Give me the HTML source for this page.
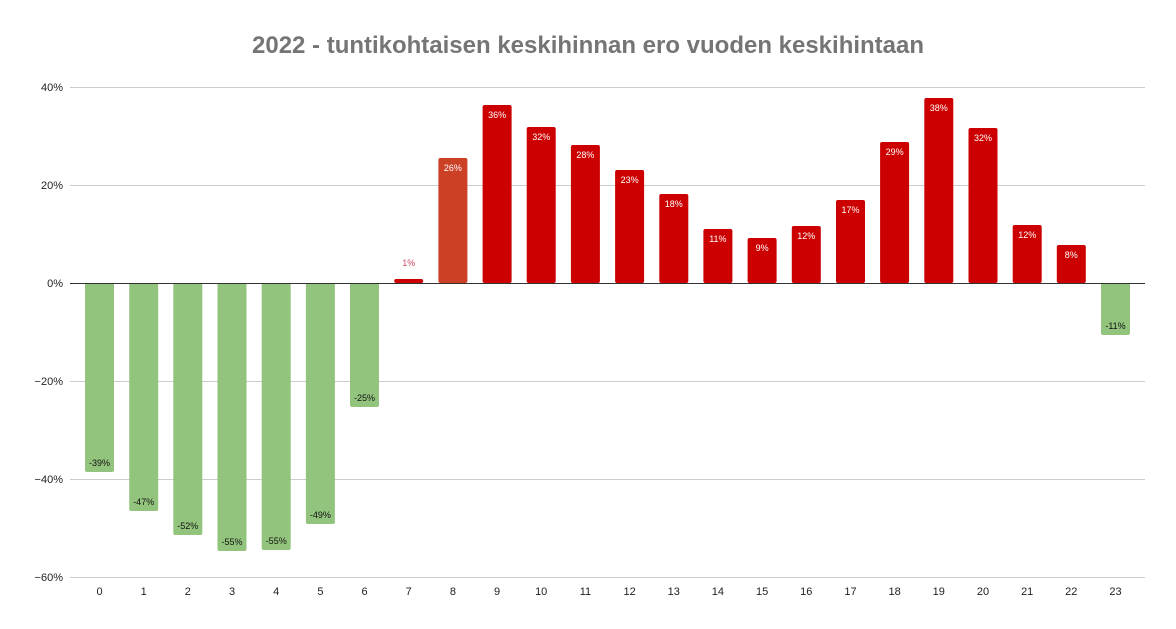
<!DOCTYPE html>
<html><head><meta charset="utf-8"><style>body{margin:0;background:#fff}svg{display:block}</style></head><body>
<svg width="1176" height="629" xmlns="http://www.w3.org/2000/svg" font-family="Liberation Sans, sans-serif">
<rect width="1176" height="629" fill="#fff"/>
<text x="588" y="53" text-anchor="middle" font-size="24" font-weight="bold" fill="#757575" textLength="672" lengthAdjust="spacingAndGlyphs">2022 - tuntikohtaisen keskihinnan ero vuoden keskihintaan</text>
<g stroke="#cccccc" stroke-width="1">
<line x1="70" x2="1145" y1="87.5" y2="87.5"/><line x1="70" x2="1145" y1="185.5" y2="185.5"/>
<line x1="70" x2="1145" y1="381.5" y2="381.5"/><line x1="70" x2="1145" y1="479.5" y2="479.5"/><line x1="70" x2="1145" y1="577.5" y2="577.5"/>
</g>
<g font-size="11" fill="#222" text-anchor="end">
<text x="63" y="91">40%</text><text x="63" y="189">20%</text><text x="63" y="287">0%</text><text x="63" y="385">−20%</text><text x="63" y="483">−40%</text><text x="63" y="581">−60%</text>
</g>
<g fill="#93c47d">
<rect x="85" y="283" width="29" height="189" rx="2"/>
<rect x="129.2" y="283" width="29" height="228" rx="2"/>
<rect x="173.3" y="283" width="29" height="252" rx="2"/>
<rect x="217.5" y="283" width="29" height="268" rx="2"/>
<rect x="261.7" y="283" width="29" height="267" rx="2"/>
<rect x="305.9" y="283" width="29" height="241" rx="2"/>
<rect x="350" y="283" width="29" height="124" rx="2"/>
<rect x="1101" y="283" width="29" height="52" rx="2"/>
</g>
<rect x="438.4" y="158" width="29" height="125" rx="2" fill="#cc4125"/>
<g fill="#cc0000">
<rect x="394.2" y="279" width="29" height="4" rx="2"/>
<rect x="482.6" y="105" width="29" height="178" rx="2"/>
<rect x="526.7" y="127" width="29" height="156" rx="2"/>
<rect x="570.9" y="145" width="29" height="138" rx="2"/>
<rect x="615.1" y="170" width="29" height="113" rx="2"/>
<rect x="659.3" y="194" width="29" height="89" rx="2"/>
<rect x="703.4" y="229" width="29" height="54" rx="2"/>
<rect x="747.6" y="238" width="29" height="45" rx="2"/>
<rect x="791.8" y="226" width="29" height="57" rx="2"/>
<rect x="836" y="200" width="29" height="83" rx="2"/>
<rect x="880.1" y="142" width="29" height="141" rx="2"/>
<rect x="924.3" y="98" width="29" height="185" rx="2"/>
<rect x="968.5" y="128" width="29" height="155" rx="2"/>
<rect x="1012.7" y="225" width="29" height="58" rx="2"/>
<rect x="1056.8" y="245" width="29" height="38" rx="2"/>
</g>
<line x1="70" x2="1145" y1="283.5" y2="283.5" stroke="#333" stroke-width="1"/>
<g font-size="9" text-anchor="middle" fill="#111">
<text x="99.5" y="466">-39%</text><text x="143.7" y="505">-47%</text><text x="187.8" y="529">-52%</text>
<text x="232" y="545">-55%</text><text x="276.2" y="544">-55%</text><text x="320.4" y="518">-49%</text>
<text x="364.5" y="401">-25%</text><text x="1115.5" y="329">-11%</text>
</g>
<text x="408.7" y="266" font-size="9" text-anchor="middle" fill="#cc4a5d">1%</text>
<g font-size="9" text-anchor="middle" fill="#fff">
<text x="452.9" y="171">26%</text><text x="497.1" y="118">36%</text><text x="541.2" y="140">32%</text>
<text x="585.4" y="158">28%</text><text x="629.6" y="183">23%</text><text x="673.8" y="207">18%</text>
<text x="717.9" y="242">11%</text><text x="762.1" y="251">9%</text><text x="806.3" y="239">12%</text>
<text x="850.5" y="213">17%</text><text x="894.6" y="155">29%</text><text x="938.8" y="111">38%</text>
<text x="983" y="141">32%</text><text x="1027.2" y="238">12%</text><text x="1071.3" y="258">8%</text>
</g>
<g font-size="11" text-anchor="middle" fill="#222">
<text x="99.5" y="595">0</text><text x="143.7" y="595">1</text><text x="187.8" y="595">2</text><text x="232" y="595">3</text>
<text x="276.2" y="595">4</text><text x="320.4" y="595">5</text><text x="364.5" y="595">6</text><text x="408.7" y="595">7</text>
<text x="452.9" y="595">8</text><text x="497.1" y="595">9</text><text x="541.2" y="595">10</text><text x="585.4" y="595">11</text>
<text x="629.6" y="595">12</text><text x="673.8" y="595">13</text><text x="717.9" y="595">14</text><text x="762.1" y="595">15</text>
<text x="806.3" y="595">16</text><text x="850.5" y="595">17</text><text x="894.6" y="595">18</text><text x="938.8" y="595">19</text>
<text x="983" y="595">20</text><text x="1027.2" y="595">21</text><text x="1071.3" y="595">22</text><text x="1115.5" y="595">23</text>
</g>
</svg>
</body></html>
